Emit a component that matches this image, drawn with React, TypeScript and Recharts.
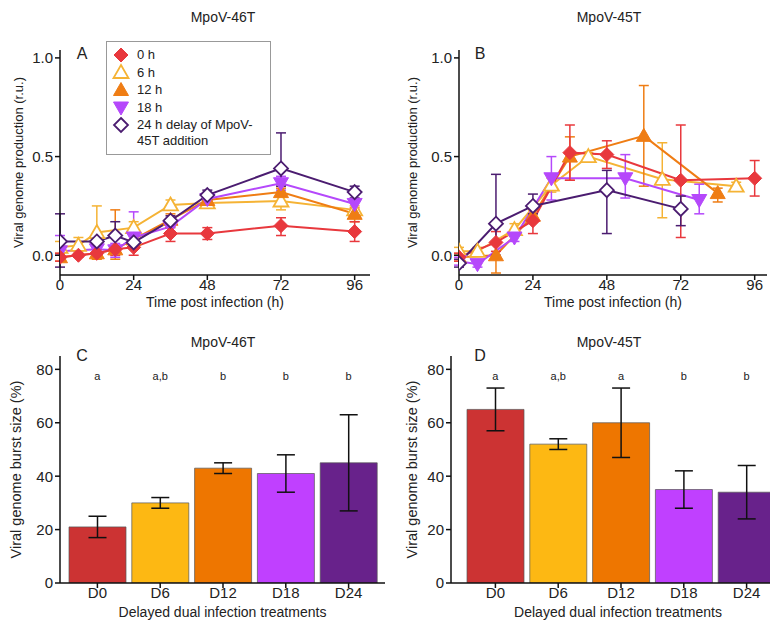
import React from "react";
import {
  LineChart,
  Line,
  BarChart,
  Bar,
  Cell,
  XAxis,
  YAxis,
  ErrorBar,
  ReferenceDot,
} from "recharts";

const FONT = '"Liberation Sans", Arial, Helvetica, sans-serif';

// series styling (colour + marker) per delay
const SERIES = [
  { key: "0h", label: "0 h", color: "#e8383d", shape: "diamond", open: false },
  { key: "6h", label: "6 h", color: "#f5b335", shape: "up", open: true },
  { key: "12h", label: "12 h", color: "#ef7d14", shape: "up", open: false },
  { key: "18h", label: "18 h", color: "#b548fb", shape: "down", open: false },
  { key: "24h", label: "24 h delay of MpoV-", label2: "45T addition", color: "#4b1c70", shape: "diamond", open: true },
];
// drawing order: 6h, 12h, 18h, 0h, 24h on top
const DRAW_ORDER = [1, 2, 3, 0, 4];

const X_TICKS = [0, 24, 48, 72, 96];
const Y_TICKS_LINE = [0, 0.5, 1];

// ---- Panel A: MpoV-46T
const a0Time = [0, 6, 12, 18, 24, 36, 48, 72, 96];
const a0Val = [-0.01, 0.0, 0.01, 0.03, 0.04, 0.11, 0.11, 0.15, 0.12];
const a0Lo = [-0.03, -0.01, -0.01, 0.0, 0.0, 0.07, 0.08, 0.1, 0.07];
const a0Hi = [0.01, 0.01, 0.03, 0.05, 0.08, 0.14, 0.14, 0.19, 0.17];

const a6Time = [0, 6, 12, 24, 36, 48, 72, 96];
const a6Val = [0.04, 0.05, 0.115, 0.14, 0.255, 0.265, 0.275, 0.23];
const a6Lo = [0.0, 0.02, -0.02, 0.1, 0.23, 0.25, 0.23, 0.2];
const a6Hi = [0.07, 0.09, 0.25, 0.17, 0.28, 0.28, 0.32, 0.25];

const a12Time = [0, 12, 18, 24, 36, 48, 72, 96];
const a12Val = [-0.01, 0.01, 0.03, 0.08, 0.18, 0.28, 0.32, 0.21];
const a12Lo = [-0.03, -0.02, -0.02, 0.05, 0.15, 0.26, 0.3, 0.17];
const a12Hi = [0.01, 0.04, 0.23, 0.11, 0.21, 0.3, 0.34, 0.24];

const a18Time = [0, 12, 18, 24, 36, 48, 72, 96];
const a18Val = [0.02, 0.03, 0.025, 0.09, 0.145, 0.285, 0.365, 0.26];
const a18Lo = [0.0, 0.0, -0.01, 0.06, 0.12, 0.26, 0.33, 0.23];
const a18Hi = [0.1, 0.06, 0.06, 0.22, 0.17, 0.31, 0.4, 0.28];

const a24Time = [0, 12, 18, 24, 36, 48, 72, 96];
const a24Val = [0.07, 0.07, 0.1, 0.065, 0.175, 0.305, 0.44, 0.32];
const a24Lo = [-0.06, 0.05, 0.04, 0.04, 0.15, 0.28, 0.35, 0.29];
const a24Hi = [0.21, 0.09, 0.17, 0.1, 0.2, 0.33, 0.62, 0.35];

// ---- Panel B: MpoV-45T
const b0Time = [0, 12, 24, 36, 48, 72, 96];
const b0Val = [-0.01, 0.065, 0.175, 0.52, 0.51, 0.38, 0.39];
const b0Lo = [-0.03, 0.02, 0.11, 0.38, 0.44, 0.09, 0.3];
const b0Hi = [0.01, 0.12, 0.25, 0.66, 0.58, 0.66, 0.48];

const b6Time = [0, 6, 18, 30, 42, 66, 90];
const b6Val = [0.02, 0.02, 0.13, 0.355, 0.5, 0.385, 0.35];
const b6Lo = [0.0, 0.0, 0.1, 0.32, 0.48, 0.19, 0.33];
const b6Hi = [0.04, 0.04, 0.16, 0.39, 0.52, 0.57, 0.37];

const b12Time = [0, 12, 24, 36, 60, 84];
const b12Val = [-0.01, 0.0, 0.2, 0.5, 0.605, 0.315];
const b12Lo = [-0.03, -0.09, 0.17, 0.38, 0.35, 0.27];
const b12Hi = [0.01, 0.06, 0.23, 0.6, 0.86, 0.34];

const b18Time = [0, 6, 18, 30, 54, 78];
const b18Val = [-0.03, -0.045, 0.09, 0.39, 0.39, 0.28];
const b18Lo = [-0.05, -0.06, 0.07, 0.28, 0.29, 0.21];
const b18Hi = [-0.01, -0.03, 0.12, 0.5, 0.51, 0.36];

const b24Time = [0, 12, 24, 48, 72];
const b24Val = [-0.04, 0.16, 0.25, 0.33, 0.235];
const b24Lo = [-0.06, 0.0, 0.21, 0.11, 0.15];
const b24Hi = [-0.02, 0.41, 0.31, 0.43, 0.3];

// ---- Panels C/D: burst size
const treatments = ["D0", "D6", "D12", "D18", "D24"];
const barColors = ["#cc3333", "#fdb813", "#ee7600", "#c040ff", "#68228b"];
const Y_TICKS_BAR = [0, 20, 40, 60, 80];

const cVal = [21, 30, 43, 41, 45];
const cLo = [17, 28, 41, 34, 27];
const cHi = [25, 32, 45, 48, 63];
const cLetters = ["a", "a,b", "b", "b", "b"];

const dVal = [65, 52, 60, 35, 34];
const dLo = [57, 50, 47, 28, 24];
const dHi = [73, 54, 73, 42, 44];
const dLetters = ["a", "a,b", "a", "b", "b"];

function build(time: number[], val: number[], lo: number[], hi: number[]) {
  return time.map((t, i) => ({ t, v: val[i], err: [val[i] - lo[i], hi[i] - val[i]] }));
}

const panelA = [
  build(a0Time, a0Val, a0Lo, a0Hi),
  build(a6Time, a6Val, a6Lo, a6Hi),
  build(a12Time, a12Val, a12Lo, a12Hi),
  build(a18Time, a18Val, a18Lo, a18Hi),
  build(a24Time, a24Val, a24Lo, a24Hi),
];
const panelB = [
  build(b0Time, b0Val, b0Lo, b0Hi),
  build(b6Time, b6Val, b6Lo, b6Hi),
  build(b12Time, b12Val, b12Lo, b12Hi),
  build(b18Time, b18Val, b18Lo, b18Hi),
  build(b24Time, b24Val, b24Lo, b24Hi),
];

function barData(val: number[], lo: number[], hi: number[]) {
  return treatments.map((name, i) => ({ name, v: val[i], err: [val[i] - lo[i], hi[i] - val[i]] }));
}

function Marker({ cx, cy, shape, color, open }: any) {
  const fill = open ? "#fff" : color;
  const sw = open ? 1.8 : 1;
  if (shape === "diamond") {
    const s = 7;
    return (
      <polygon
        points={`${cx},${cy - s} ${cx + s},${cy} ${cx},${cy + s} ${cx - s},${cy}`}
        fill={fill}
        stroke={color}
        strokeWidth={sw}
      />
    );
  }
  if (shape === "up") {
    return (
      <polygon
        points={`${cx},${cy - 7.5} ${cx + 7.5},${cy + 5.5} ${cx - 7.5},${cy + 5.5}`}
        fill={fill}
        stroke={color}
        strokeWidth={sw}
      />
    );
  }
  return (
    <polygon
      points={`${cx},${cy + 7.5} ${cx + 7.5},${cy - 5.5} ${cx - 7.5},${cy - 5.5}`}
      fill={fill}
      stroke={color}
      strokeWidth={sw}
    />
  );
}

const tickStyle = { fontSize: 15, fill: "#222", fontFamily: FONT };
const xTickStyle = { ...tickStyle, dy: -3 };
const axisLine = { stroke: "#111", strokeWidth: 1.5 };
const tickLine = { stroke: "#111", strokeWidth: 1.5 };

const abs = (left: number, top: number): React.CSSProperties => ({
  position: "absolute",
  left,
  top,
});

function Text({ x, y, size, children }: any) {
  return (
    <div
      style={{
        position: "absolute",
        left: x,
        top: y,
        transform: "translate(-50%, -50%)",
        fontSize: size,
        fontFamily: FONT,
        color: "#222",
        whiteSpace: "nowrap",
        lineHeight: 1,
      }}
    >
      {children}
    </div>
  );
}

function LinePanel({ data, width, xMax, marginLeft, yAxisWidth, labelOffset, marginRight }: any) {
  return (
    <LineChart
      width={width}
      height={312}
      margin={{ top: 42, right: marginRight, left: marginLeft, bottom: 12 }}
    >
      <XAxis
        dataKey="t"
        type="number"
        domain={[0, xMax]}
        ticks={X_TICKS}
        allowDataOverflow
        height={33}
        tick={xTickStyle}
        axisLine={axisLine}
        tickLine={tickLine}
        tickSize={5}
        label={{
          value: "Time post infection (h)",
          position: "insideBottom",
          offset: 1,
          style: { fontSize: 14, fill: "#222", fontFamily: FONT },
        }}
      />
      <YAxis
        type="number"
        domain={[-0.1, 1.04]}
        ticks={Y_TICKS_LINE}
        allowDataOverflow
        width={yAxisWidth}
        tick={tickStyle}
        tickFormatter={(v: number) => v.toFixed(1)}
        axisLine={axisLine}
        tickLine={tickLine}
        tickSize={5}
        label={{
          value: "Viral genome production (r.u.)",
          angle: -90,
          position: "insideLeft",
          offset: labelOffset,
          style: { fontSize: 13, fill: "#222", fontFamily: FONT, textAnchor: "middle" },
        }}
      />
      {DRAW_ORDER.map((si) => {
        const s = SERIES[si];
        return (
          <Line
            key={s.key}
            data={data[si]}
            dataKey="v"
            name={s.label}
            stroke={s.color}
            strokeWidth={2}
            isAnimationActive={false}
            activeDot={false}
            dot={(p: any) => (
              <Marker key={`${s.key}-${p.index}`} cx={p.cx} cy={p.cy} shape={s.shape} color={s.color} open={s.open} />
            )}
          >
            <ErrorBar dataKey="err" direction="y" width={5} stroke={s.color} strokeWidth={1.5} />
          </Line>
        );
      })}
    </LineChart>
  );
}

function BarPanel({ data, letters, marginLeft, yAxisWidth, marginRight, padL, padR, labelOffset, width }: any) {
  return (
    <BarChart
      width={width}
      height={320}
      data={data}
      margin={{ top: 48, right: marginRight, left: marginLeft, bottom: 0 }}
    >
      <XAxis
        dataKey="name"
        padding={{ left: padL, right: padR }}
        height={45}
        tick={xTickStyle}
        axisLine={axisLine}
        tickLine={tickLine}
        tickSize={5}
        label={{
          value: "Delayed dual infection treatments",
          position: "insideBottom",
          offset: 11,
          style: { fontSize: 14, fill: "#222", fontFamily: FONT },
        }}
      />
      <YAxis
        type="number"
        domain={[0, 85]}
        ticks={Y_TICKS_BAR}
        allowDataOverflow
        width={yAxisWidth}
        tick={tickStyle}
        axisLine={axisLine}
        tickLine={tickLine}
        tickSize={5}
        label={{
          value: "Viral genome burst size (%)",
          angle: -90,
          position: "insideLeft",
          offset: labelOffset,
          style: { fontSize: 14.5, fill: "#222", fontFamily: FONT, textAnchor: "middle" },
        }}
      />
      <Bar dataKey="v" barSize={57} isAnimationActive={false} stroke="#555" strokeOpacity={0.7} strokeWidth={1}>
        {data.map((_: any, i: number) => (
          <Cell key={i} fill={barColors[i]} />
        ))}
        <ErrorBar dataKey="err" direction="y" width={9} stroke="#111" strokeWidth={1.5} />
      </Bar>
      {treatments.map((t, i) => (
        <ReferenceDot
          key={t}
          x={t}
          y={77.4}
          r={0}
          fill="none"
          stroke="none"
          label={{ value: letters[i], position: "center", style: { fontSize: 11, fill: "#222", fontFamily: FONT } }}
        />
      ))}
    </BarChart>
  );
}

function Legend() {
  const rows = [0, 1, 2, 3, 4];
  return (
    <div
      style={{
        position: "absolute",
        left: 98,
        top: 33,
        width: 165,
        height: 114,
        border: "1px solid #999",
        background: "#fff",
        boxSizing: "border-box",
        fontFamily: FONT,
        fontSize: 13,
        color: "#222",
      }}
    >
      <svg width={30} height={112} style={{ position: "absolute", left: 0, top: 0 }}>
        {rows.map((i) => (
          <Marker
            key={i}
            cx={14}
            cy={13 + i * 17.5}
            shape={SERIES[i].shape}
            color={SERIES[i].color}
            open={SERIES[i].open}
          />
        ))}
      </svg>
      {rows.map((i) => (
        <div key={i} style={{ position: "absolute", left: 30, top: 5 + i * 17.5, lineHeight: "16px" }}>
          {SERIES[i].label}
        </div>
      ))}
      <div style={{ position: "absolute", left: 30, top: 5 + 5 * 17.2, lineHeight: "16px" }}>
        {SERIES[4].label2}
      </div>
    </div>
  );
}

export default function App() {
  return (
    <div style={{ position: "relative", width: 778, height: 620, background: "#fff", fontFamily: FONT }}>
      <div style={abs(0, 0)}>
        <LinePanel data={panelA} width={389} xMax={101} marginLeft={2} yAxisWidth={50} labelOffset={8} marginRight={27} />
      </div>
      <div style={abs(390, 0)}>
        <LinePanel data={panelB} width={388} xMax={100} marginLeft={6} yAxisWidth={55} labelOffset={8} marginRight={19} />
      </div>
      <div style={abs(0, 300)}>
        <BarPanel
          data={barData(cVal, cLo, cHi)}
          letters={cLetters}
          width={389}
          marginLeft={0}
          yAxisWidth={52}
          marginRight={12}
          padL={6}
          padR={5}
          labelOffset={8}
        />
      </div>
      <div style={abs(390, 300)}>
        <BarPanel
          data={barData(dVal, dLo, dHi)}
          letters={dLetters}
          width={388}
          marginLeft={0}
          yAxisWidth={53}
          marginRight={1}
          padL={13}
          padR={7}
          labelOffset={14}
        />
      </div>
      <Legend />
      <Text x={215} y={9} size={14}>MpoV-46T</Text>
      <Text x={601} y={9} size={14}>MpoV-45T</Text>
      <Text x={215} y={334} size={14}>MpoV-46T</Text>
      <Text x={601} y={334} size={14}>MpoV-45T</Text>
      <Text x={74} y={46} size={16}>A</Text>
      <Text x={472} y={46} size={16}>B</Text>
      <Text x={74} y={348} size={16}>C</Text>
      <Text x={472} y={348} size={16}>D</Text>
    </div>
  );
}
